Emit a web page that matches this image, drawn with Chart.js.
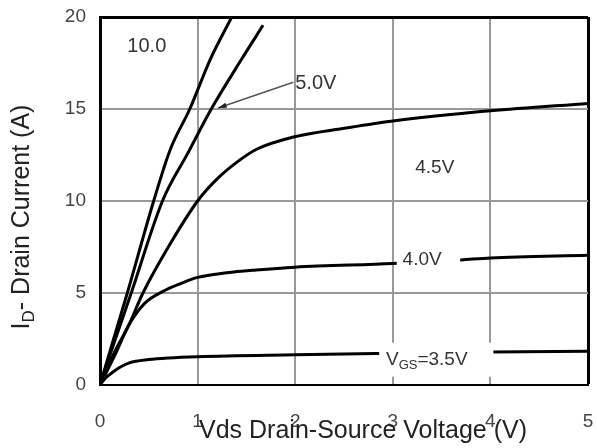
<!DOCTYPE html>
<html>
<head>
<meta charset="utf-8">
<script src="https://cdn.jsdelivr.net/npm/chart.js@4.4.1/dist/chart.umd.min.js"></script>
<style>
  body { margin: 0; background: #fff; }
  #wrap { width: 597px; height: 448px; }
</style>
</head>
<body>
<div id="wrap"><canvas id="ivChart"></canvas></div>
<script>
// Output characteristics, Vds (V) vs Id (A), one curve per gate voltage

const vds10 = [0, 0.1, 0.28, 0.55, 0.72, 0.92, 1.13, 1.35];
const id10 = [0, 1.8, 5, 10, 12.8, 15, 17.7, 20];

const vds50 = [0, 0.1, 0.32, 0.64, 0.9, 1.14, 1.45, 1.67];
const id50 = [0, 1.6, 5, 10, 12.6, 15, 17.7, 19.55];

const vds45 = [0, 0.15, 0.29, 0.44, 0.7, 1.0, 1.2, 1.4, 1.6, 2.0, 2.5, 3, 4, 5];
const id45 = [0, 1.8, 3.2, 5, 7.5, 10, 11.2, 12.1, 12.8, 13.5, 13.95, 14.35, 14.9, 15.3];

const vds40 = [0, 0.15, 0.3, 0.46, 0.65, 0.82, 1.0, 1.3, 1.6, 2.0, 3.0, 3.7, 4.0, 5];
const id40 = [0, 1.6, 3.3, 4.45, 5.1, 5.5, 5.85, 6.1, 6.25, 6.4, 6.6, 6.8, 6.9, 7.05];

const vds35 = [0, 0.06, 0.12, 0.2, 0.3, 0.5, 0.7, 1, 2, 3, 4, 5];
const id35 = [0, 0.4, 0.65, 0.95, 1.2, 1.38, 1.47, 1.54, 1.64, 1.72, 1.8, 1.83];

const xTicks = [0, 1, 2, 3, 4, 5];
const yTicks = [0, 5, 10, 15, 20];

const FONT = "'Liberation Sans', Arial, sans-serif";

// join x and y arrays into points
function pts(xs, ys) {
  return xs.map((x, i) => ({ x: x, y: ys[i] }));
}

function curve(label, xs, ys) {
  return {
    label: label,
    data: pts(xs, ys),
    borderColor: "#000",
    borderWidth: 3,
    pointRadius: 0,
    fill: false,
    cubicInterpolationMode: "monotone"
  };
}

// draw text made of pieces, e.g. subscripts
function drawParts(ctx, x, y, parts) {
  let cx = x;
  parts.forEach(p => {
    ctx.font = p.size + "px " + FONT;
    ctx.fillText(p.t, cx, y + (p.dy || 0));
    cx += ctx.measureText(p.t).width;
  });
  return cx - x;
}

function partsWidth(ctx, parts) {
  let w = 0;
  parts.forEach(p => {
    ctx.font = p.size + "px " + FONT;
    w += ctx.measureText(p.t).width;
  });
  return w;
}

// keep the plot area where the original has it
function noPad(s) {
  s.paddingLeft = 0;
  s.paddingRight = 0;
  s.paddingTop = 0;
  s.paddingBottom = 0;
}

const labelsPlugin = {
  id: "curveLabels",
  afterDatasetsDraw(chart) {
    const ctx = chart.ctx;
    const xs = chart.scales.x;
    const ys = chart.scales.y;
    const px = v => xs.getPixelForValue(v);
    const py = v => ys.getPixelForValue(v);

    ctx.save();
    // white boxes hiding the lines under the labels
    ctx.fillStyle = "#fff";
    ctx.fillRect(px(3.04), py(7.3), px(3.69) - px(3.04), py(6.2) - py(7.3));
    ctx.fillRect(px(2.86), py(2.3), px(4.03) - px(2.86), py(0.45) - py(2.3));

    // arrow for 5.0V
    const ax0 = px(1.98), ay0 = py(16.45), ax1 = px(1.21), ay1 = py(15.05);
    ctx.strokeStyle = "#555";
    ctx.lineWidth = 1.5;
    ctx.beginPath();
    ctx.moveTo(ax0, ay0);
    ctx.lineTo(ax1, ay1);
    ctx.stroke();
    const ang = Math.atan2(ay1 - ay0, ax1 - ax0);
    ctx.fillStyle = "#222";
    ctx.beginPath();
    ctx.moveTo(ax1, ay1);
    ctx.lineTo(ax1 - 9 * Math.cos(ang - 0.3), ay1 - 9 * Math.sin(ang - 0.3));
    ctx.lineTo(ax1 - 9 * Math.cos(ang + 0.3), ay1 - 9 * Math.sin(ang + 0.3));
    ctx.closePath();
    ctx.fill();

    ctx.fillStyle = "#333";
    ctx.textBaseline = "middle";
    ctx.textAlign = "left";
    drawParts(ctx, px(0.28), py(18.4), [{ t: "10.0", size: 20 }]);
    drawParts(ctx, px(2.0), py(16.4), [{ t: "5.0V", size: 20 }]);
    drawParts(ctx, px(3.23), py(11.8), [{ t: "4.5V", size: 19 }]);
    drawParts(ctx, px(3.1), py(6.8), [{ t: "4.0V", size: 19 }]);
    drawParts(ctx, px(2.93), py(1.35), [
      { t: "V", size: 19 },
      { t: "GS", size: 13, dy: 5 },
      { t: "=3.5V", size: 19 }
    ]);
    ctx.restore();
  },
  afterDraw(chart) {
    const ctx = chart.ctx;
    ctx.save();
    ctx.fillStyle = "#222";
    ctx.textBaseline = "alphabetic";
    ctx.textAlign = "left";

    // x axis title, overlapping the tick labels like the original
    const xt = [{ t: "Vds Drain-Source Voltage (V)", size: 25 }];
    const xw = partsWidth(ctx, xt);
    drawParts(ctx, 363 - xw / 2, 438, xt);

    // y axis title
    const yt = [
      { t: "I", size: 25 },
      { t: "D", size: 17, dy: 5 },
      { t: "- Drain Current (A)", size: 25 }
    ];
    const yw = partsWidth(ctx, yt);
    ctx.translate(29, 217);
    ctx.rotate(-Math.PI / 2);
    drawParts(ctx, -yw / 2, 0, yt);
    ctx.restore();
  }
};

const ctx = document.getElementById("ivChart").getContext("2d");

const ivChart = new Chart(ctx, {
  type: "line",
  data: {
    datasets: [
      curve("10.0V", vds10, id10),
      curve("5.0V", vds50, id50),
      curve("4.5V", vds45, id45),
      curve("4.0V", vds40, id40),
      curve("3.5V", vds35, id35)
    ]
  },
  options: {
    responsive: true,
    maintainAspectRatio: false,
    animation: false,
    layout: { padding: { top: 17, right: 9, left: 0, bottom: 0 } },
    plugins: {
      legend: { display: false },
      tooltip: { enabled: false }
    },
    scales: {
      x: {
        type: "linear",
        min: 0,
        max: 5,
        afterFit: s => { s.height = 63; noPad(s); },
        afterBuildTicks: s => { s.ticks = xTicks.map(v => ({ value: v })); },
        grid: {
          drawTicks: false,
          color: c => (c.tick && c.tick.value === 5 ? "#000" : "#999"),
          lineWidth: c => (c.tick && c.tick.value === 5 ? 3 : 2)
        },
        border: { color: "#000", width: 2 },
        ticks: {
          padding: 25,
          color: "#444",
          font: { family: FONT, size: 19 }
        }
      },
      y: {
        min: 0,
        max: 20,
        afterFit: s => { s.width = 100; noPad(s); },
        afterBuildTicks: s => { s.ticks = yTicks.map(v => ({ value: v })); },
        grid: {
          drawTicks: false,
          color: c => (c.tick && c.tick.value === 20 ? "#000" : "#999"),
          lineWidth: c => (c.tick && c.tick.value === 20 ? 3 : 2)
        },
        border: { color: "#000", width: 3 },
        ticks: {
          padding: 14,
          color: "#444",
          font: { family: FONT, size: 19 }
        }
      }
    }
  },
  plugins: [labelsPlugin]
});
</script>
</body>
</html>
